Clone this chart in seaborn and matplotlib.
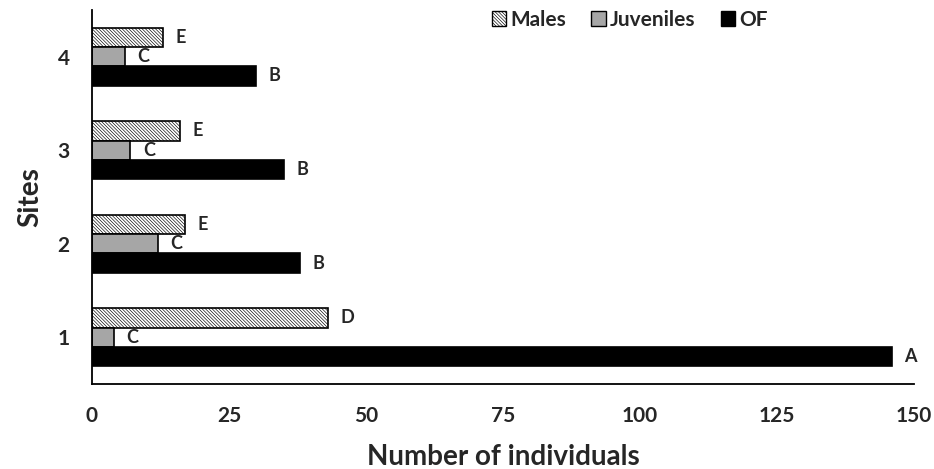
import numpy as np
import pandas as pd
import matplotlib
matplotlib.use("Agg")
import matplotlib.pyplot as plt
from matplotlib.patches import Patch
import seaborn as sns

sites = ["1", "2", "3", "4"]
groups = ["Males", "Juveniles", "OF"]
males = [43, 17, 16, 13]
juveniles = [4, 12, 7, 6]
of_counts = [146, 38, 35, 30]
males_letters = ["D", "E", "E", "E"]
juv_letters = ["C", "C", "C", "C"]
of_letters = ["A", "B", "B", "B"]

df = pd.DataFrame({
    "Site": sites * 3,
    "Group": ["Males"] * 4 + ["Juveniles"] * 4 + ["OF"] * 4,
    "Count": males + juveniles + of_counts,
    "Letter": males_letters + juv_letters + of_letters,
})

sns.set_style("white")
plt.rcParams['font.family'] = ['Lato', 'DejaVu Sans']
plt.rcParams['font.weight'] = 'bold'
plt.rcParams['hatch.linewidth'] = 0.45

fig, ax = plt.subplots(figsize=(9.34, 4.69), dpi=100)
fig.subplots_adjust(left=0.0985, right=0.9786, top=0.979, bottom=0.181)

colors = {"Males": "white", "Juveniles": "#a6a6a6", "OF": "black"}
hatch = "\\" * 10
sns.barplot(data=df, x="Count", y="Site", hue="Group", order=sites[::-1],
            hue_order=groups, palette=colors, orient="h", width=0.62,
            edgecolor="black", linewidth=1.2, gap=0, ax=ax, errorbar=None,
            legend=False)

for cont, grp in zip(ax.containers, groups):
    sub = df[df["Group"] == grp].set_index("Site").loc[sites[::-1]]
    if grp == "Males":
        for b in cont:
            b.set_hatch(hatch)
    ax.bar_label(cont, labels=list(sub["Letter"]), padding=9,
                 fontsize=13, fontweight="bold")

ax.set_xlim(0, 150)
ax.set_xticks([0, 25, 50, 75, 100, 125, 150])
ax.set_ylim(3.5, -0.5)
ax.set_yticks(np.arange(-0.5, 4, 1), minor=True)
ax.tick_params(axis="y", which="major", length=0, pad=16, labelsize=15)
ax.tick_params(axis="y", which="minor", length=7, width=1.3, direction="out")
ax.tick_params(axis="x", length=7, width=1.3, direction="out", labelsize=15, pad=9)
for lbl in ax.get_xticklabels() + ax.get_yticklabels():
    lbl.set_fontweight("bold")

for s in ["top", "right"]:
    ax.spines[s].set_visible(False)
for s in ["left", "bottom"]:
    ax.spines[s].set_linewidth(1.3)
    ax.spines[s].set_color("black")

ax.set_xlabel("Number of individuals", fontsize=20, fontweight="bold", labelpad=13)
ax.set_ylabel("Sites", fontsize=20, fontweight="bold", labelpad=10)

handles = [Patch(facecolor="white", edgecolor="black", hatch=hatch, linewidth=1),
           Patch(facecolor="#a6a6a6", edgecolor="black", linewidth=1),
           Patch(facecolor="black", edgecolor="black", linewidth=1)]
leg = ax.legend(handles, groups, loc="upper right", bbox_to_anchor=(0.845, 1.05), ncol=3,
                frameon=False, fontsize=15, handlelength=0.7, handleheight=0.7,
                handletextpad=0.2, columnspacing=1.2)
for t in leg.get_texts():
    t.set_fontweight("bold")

plt.savefig("out.png", dpi=100)
